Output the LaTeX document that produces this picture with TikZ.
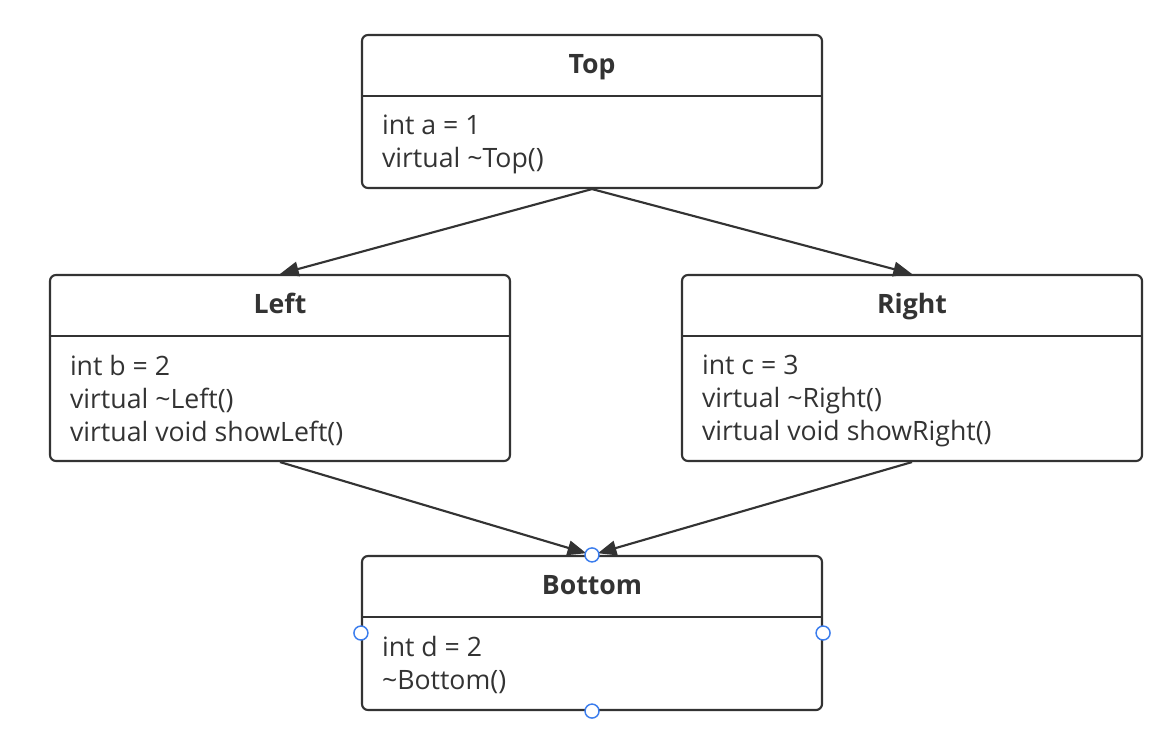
\documentclass[tikz,border=0pt]{standalone}
\usepackage{fontspec}
\setmainfont{Open Sans}
\usetikzlibrary{positioning, arrows.meta}
\definecolor{linegray}{HTML}{333333}
\definecolor{handleblue}{HTML}{3B7DED}

\begin{document}
\begin{tikzpicture}[x=0.75pt, y=-0.75pt, line width=1.6pt, >={Triangle[length=14pt, width=11pt]},
	classbox/.style={draw=linegray, rounded corners=4.5pt, minimum width=345pt, inner sep=0pt},
	header/.style={minimum width=345pt, minimum height=45pt, inner sep=0pt, text height=15.5pt, text depth=3pt, text=linegray, font=\fontsize{20}{22}\selectfont\bfseries},
	members/.style={align=left, inner sep=0pt, anchor=north west, text=linegray, font=\fontsize{20}{24.75}\selectfont},
	handle/.style={circle, draw=handleblue, fill=white, line width=1.1pt, minimum size=10.5pt, inner sep=0pt},
	inherit/.style={->, draw=linegray}]

		\useasboundingbox (0,0) rectangle (1162,750);

		% classes
		\node (top) [classbox, minimum height=114.75pt] at (592,111.5) {};
		\node (left) [classbox, minimum height=139.5pt] at (280,368) {};
		\node (right) [classbox, minimum height=139.5pt] at (912,368) {};
		\node (bottom) [classbox, minimum height=115.5pt] at (592,633) {};

		\node (toptitle) [header, below=0pt of top.north] {Top};
		\node (lefttitle) [header, below=0pt of left.north] {Left};
		\node (righttitle) [header, below=0pt of right.north] {Right};
		\node (bottomtitle) [header, below=0pt of bottom.north] {Bottom};

		\foreach \c in {top, left, right, bottom}
			\draw[linegray] (\c title.south west) -- (\c title.south east);

		\node (topbody) [members, below right=13.5pt and 15pt of toptitle.south west] {int a = 1\\virtual \textasciitilde Top()};
		\node (leftbody) [members, below right=13.5pt and 15pt of lefttitle.south west] {int b = 2\\virtual \textasciitilde Left()\\virtual void showLeft()};
		\node (rightbody) [members, below right=13.5pt and 15pt of righttitle.south west] {int c = 3\\virtual \textasciitilde Right()\\virtual void showRight()};
		\node (bottombody) [members, below right=13.5pt and 15pt of bottomtitle.south west] {int d = 2\\\textasciitilde Bottom()};

		% inheritance
		\path
			(top.south) edge [inherit] (left.north)
			(top.south) edge [inherit] (right.north)
			(left.south) edge [inherit, shorten >=4.5pt] (bottom.north)
			(right.south) edge [inherit, shorten >=4.5pt] (bottom.north);

		% selection handles
		\node (hn) [handle] at (bottom.north) {};
		\node (hw) [handle] at (bottom.west) {};
		\node (he) [handle] at (bottom.east) {};
		\node (hs) [handle] at (bottom.south) {};

\end{tikzpicture}
\end{document}
